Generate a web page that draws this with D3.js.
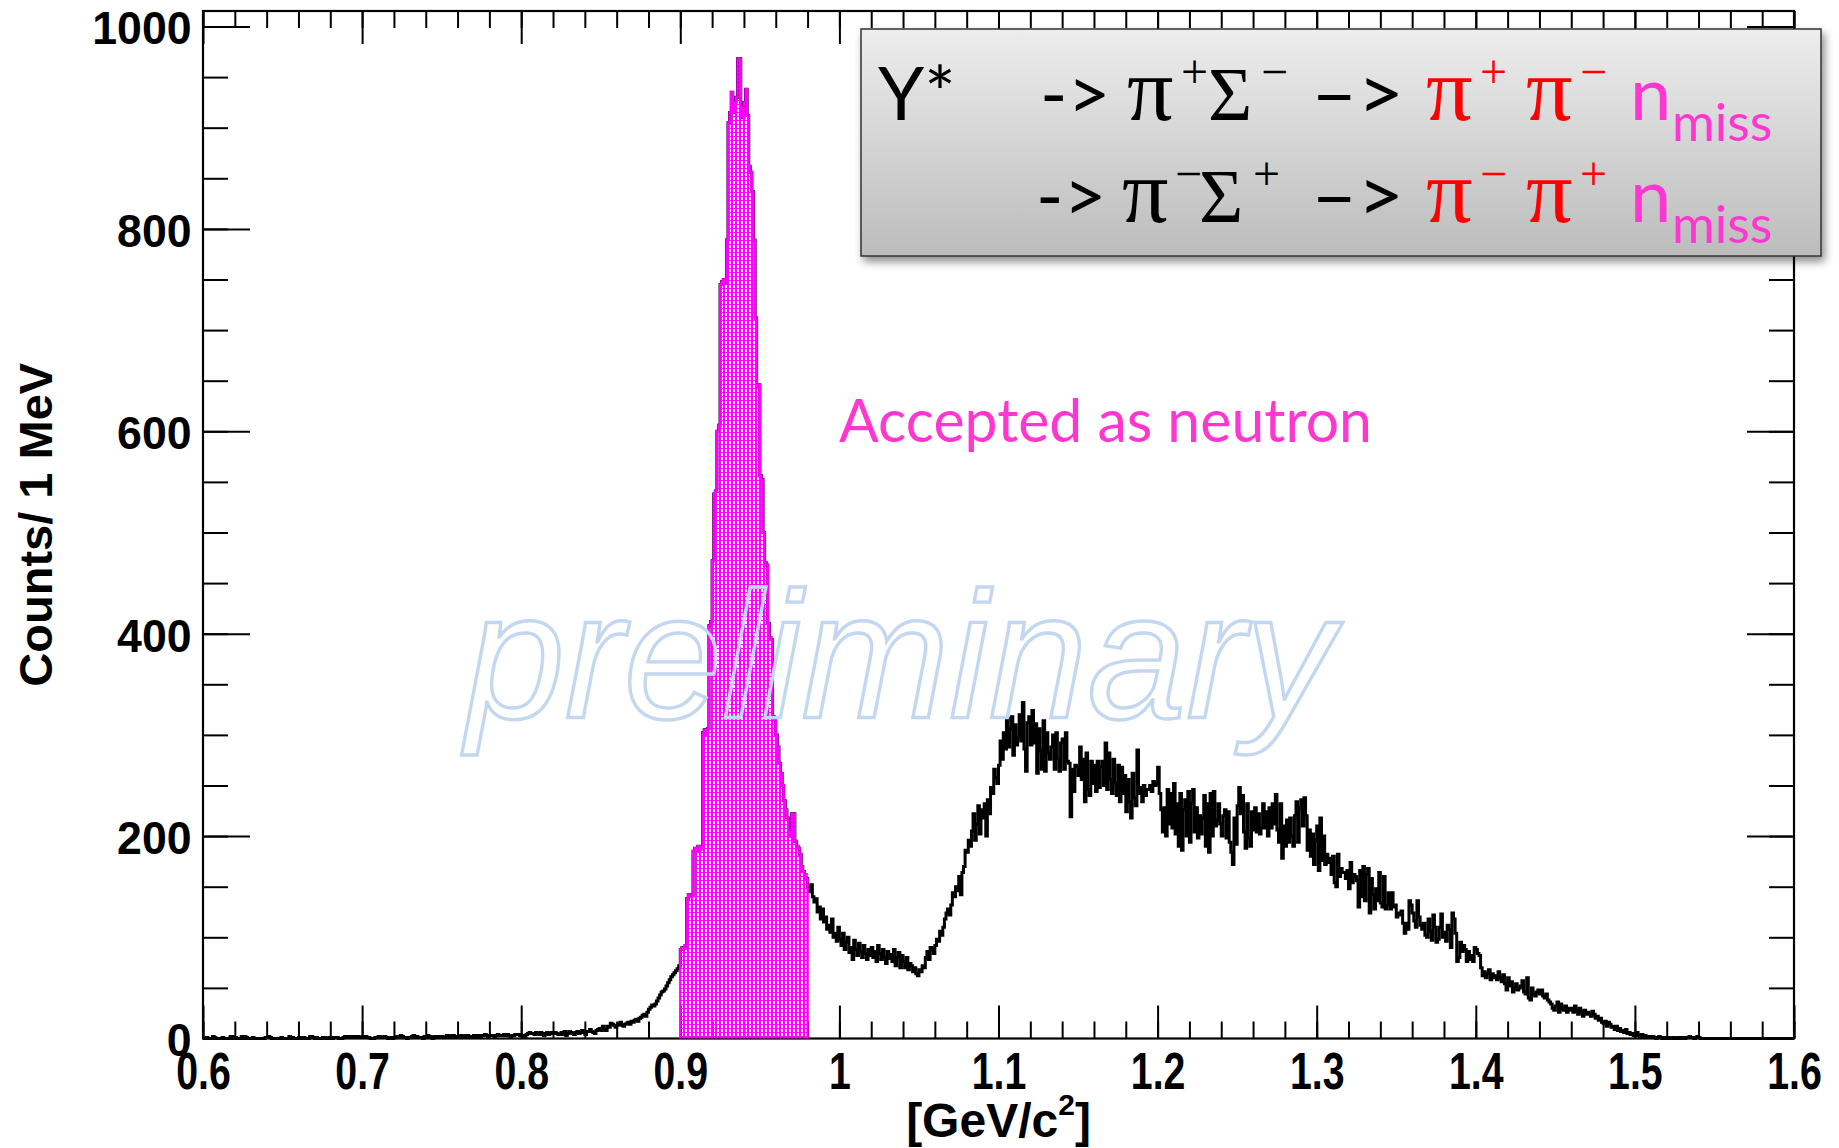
<!DOCTYPE html>
<html>
<head>
<meta charset="utf-8">
<script src="https://cdn.jsdelivr.net/npm/d3@7"></script>
<style>
  html, body { margin: 0; padding: 0; background: #ffffff; }
  svg { display: block; }
</style>
</head>
<body>
<svg id="chart" width="1839" height="1148"></svg>
<script>
// ---- Missing-mass histogram, 1 MeV bins from 0.6 to 1.6 GeV/c^2 ----
const massMin = 0.6;
const massMax = 1.6;
const binWidth = 0.001;
const yMax = 1015.3;

// counts per 1 MeV bin, 20 bins per row (row start mass in comment)
const counts = [
  0,0,1,0,0,0,2,1,0,0,0,0,1,0,0,0,0,2,2,1,            // 0.600
  1,0,0,0,2,2,2,1,0,0,0,1,0,0,0,0,0,0,0,1,            // 0.620
  1,2,1,0,0,0,0,0,0,1,0,0,0,0,2,0,1,0,0,0,            // 0.640
  1,0,1,1,0,0,0,2,2,1,0,1,0,0,0,1,1,0,0,1,            // 0.660
  0,0,1,1,1,0,0,0,1,2,2,1,2,2,2,2,1,2,1,1,            // 0.680
  2,2,2,1,1,0,0,0,1,1,2,2,1,1,2,1,0,0,1,0,            // 0.700
  1,2,2,1,3,2,1,1,0,1,1,2,3,2,2,1,1,1,0,2,            // 0.720
  2,3,2,1,0,2,1,2,2,2,2,1,1,3,2,2,3,3,2,1,            // 0.740
  2,2,3,2,1,3,3,2,2,1,3,2,3,3,2,3,3,4,3,2,            // 0.760
  3,3,3,2,3,4,3,3,3,4,3,4,3,2,3,3,4,4,4,3,            // 0.780
  3,3,2,4,5,6,5,5,4,6,5,4,6,5,3,5,6,4,5,6,            // 0.800
  5,6,5,4,4,6,4,7,3,5,7,6,5,4,6,7,5,6,8,6,            // 0.820
  4,7,7,9,7,6,5,8,9,10,8,12,9,8,12,11,15,14,13,11,    // 0.840
  13,14,16,13,12,14,15,16,14,17,16,18,19,17,20,21,23,24,22,26,           // 0.860
  29,31,33,32,34,37,40,43,46,47,49,52,55,58,61,63,65,67,69,72,           // 0.880
  88,90,89,92,138,142,140,141,185,188,186,190,187,189,302,305,300,306,408,412, // 0.900
  472,538,541,600,606,745,748,750,747,789,905,915,935,915,925,930,968,968,920,910, // 0.920
  925,938,912,862,856,837,789,712,644,646,556,552,500,470,468,410,396,394,318,315, // 0.940
  300,288,272,262,250,235,226,218,205,200,222,222,195,190,188,182,170,165,162,158, // 0.960
  150,145,152,140,135,138,125,130,118,128,115,120,108,112,105,118,100,104,96,110,  // 0.980
  98,92,104,88,95,100,85,90,78,97,88,82,94,86,80,92,84,78,88,82,         // 1.000
  90,80,86,76,92,84,78,88,80,74,86,79,83,76,88,72,80,85,70,82,           // 1.020
  76,70,80,68,74,72,66,70,64,62,68,66,72,70,80,86,78,90,88,84,           // 1.040
  92,98,96,106,102,110,118,124,128,122,132,144,140,150,146,160,142,164,170,186,    // 1.060
  184,196,190,205,222,196,212,230,202,226,218,232,200,236,222,248,242,266,258,252, // 1.080
  270,294,276,302,286,316,288,306,318,280,310,290,298,320,294,332,286,264,312,318, // 1.100
  290,324,292,311,262,306,284,266,314,264,302,282,276,288,300,266,302,276,264,292, // 1.120
  296,266,302,274,272,219,266,244,270,268,260,288,256,276,234,282,246,240,274,252, // 1.140
  270,244,274,248,268,274,250,292,246,282,256,242,276,252,240,270,234,268,242,260, // 1.160
  224,256,234,218,262,238,230,285,242,248,234,250,240,246,246,250,244,254,250,252, // 1.180
  268,242,226,204,228,200,246,212,242,208,252,202,232,190,242,186,226,236,200,244, // 1.200
  194,232,246,204,228,198,220,202,218,240,190,232,184,242,200,244,210,216,232,212, // 1.220
  200,220,226,198,224,194,184,172,218,192,230,248,222,240,204,188,232,198,190,224, // 1.240
  206,228,204,222,202,208,232,208,224,200,228,208,232,212,241,206,194,232,178,210, // 1.260
  190,216,194,218,200,190,220,234,194,228,236,210,238,220,186,206,180,202,172,196, // 1.280
  210,166,218,176,200,172,182,174,178,162,180,154,150,182,160,168,164,164,158,166, // 1.300
  148,174,154,162,160,156,130,166,140,170,136,162,168,124,158,142,128,148,136,164, // 1.320
  134,130,160,128,132,144,128,144,130,132,120,124,122,126,114,104,114,108,136,132, // 1.340
  124,116,110,136,120,112,108,114,102,100,118,106,97,122,110,95,98,110,123,100,    // 1.360
  105,96,112,108,90,124,118,104,76,80,95,86,92,88,76,86,78,82,76,90,     // 1.380
  88,84,82,70,62,66,60,64,68,58,64,60,62,58,66,60,56,63,54,48,           // 1.400
  60,52,56,46,50,54,48,50,52,57,46,44,60,40,38,50,44,42,46,48,           // 1.420
  44,48,42,40,44,38,36,34,30,28,32,36,26,34,30,28,32,26,30,28,           // 1.440
  30,26,32,28,24,30,26,22,28,24,26,24,22,27,24,20,22,18,20,16,           // 1.460
  15,17,12,16,14,11,12,9,12,8,10,7,8,6,9,5,6,4,5,3,                      // 1.480
  4,6,3,2,4,2,3,1,2,1,2,2,1,0,1,2,1,0,1,0,                               // 1.500
  0,1,0,0,1,0,0,1,0,1,1,0,1,1,2,1,1,0,1,2,                               // 1.520
  1,0,0,0,0,0,0,0,0,0,0,0,0,0,0,0,0,0,0,0,                               // 1.540
  0,0,0,0,0,0,0,0,0,0,0,0,0,0,0,0,0,0,0,0,                               // 1.560
  0,0,0,0,0,0,0,0,0,0,0,0,0,0,0,0,0,0,0,0                                // 1.580
];

// missing-mass window accepted as a neutron
const acceptWindow = [0.900, 0.980];

// axis ticks and labels
const xMajor = [0.6, 0.7, 0.8, 0.9, 1.0, 1.1, 1.2, 1.3, 1.4, 1.5, 1.6];
const xMajorLabels = ["0.6", "0.7", "0.8", "0.9", "1", "1.1", "1.2", "1.3", "1.4", "1.5", "1.6"];
const xMinorStep = 0.02;
const yMajor = [0, 200, 400, 600, 800, 1000];
const yMajorLabels = ["0", "200", "400", "600", "800", "1000"];
const yMinorStep = 50;

const xTitle = "[GeV/c";
const yTitle = "Counts/ 1 MeV";
const cutLabel = "Accepted as neutron";
const watermark = "preliminary";

// ---- drawing ----
const svg = d3.select("#chart");
const frame = { left: 203, right: 1794, top: 11, bottom: 1038.5 };
const x = d3.scaleLinear().domain([massMin, massMax]).range([frame.left, frame.right]);
const y = d3.scaleLinear().domain([0, yMax]).range([frame.bottom, frame.top]);

const defs = svg.append("defs");
// dotted magenta fill: 2x3 transparent hole in every 4x4 cell
const pat = defs.append("pattern")
  .attr("id", "fillDots").attr("width", 4).attr("height", 4)
  .attr("patternUnits", "userSpaceOnUse");
pat.append("path")
  .attr("d", "M0,0h4v1h-4z M0,1h1v3h-1z M3,1h1v3h-1z")
  .attr("fill", "#ff00ff").attr("shape-rendering", "crispEdges");

const grad = defs.append("linearGradient").attr("id", "boxGrad")
  .attr("x1", 0).attr("y1", 0).attr("x2", 0).attr("y2", 1);
grad.append("stop").attr("offset", "0%").attr("stop-color", "#ededed");
grad.append("stop").attr("offset", "100%").attr("stop-color", "#bcbcbc");

const shadow = defs.append("filter").attr("id", "boxShadow")
  .attr("x", "-5%").attr("y", "-10%").attr("width", "115%").attr("height", "130%");
shadow.append("feDropShadow").attr("dx", 3).attr("dy", 5)
  .attr("stdDeviation", 4).attr("flood-color", "#000").attr("flood-opacity", 0.45);

// tick marks (all pointing into the frame)
const xMinor = d3.range(Math.round((massMax - massMin) / xMinorStep) + 1)
  .map(i => +(massMin + i * xMinorStep).toFixed(3));
const yMinor = d3.range(0, yMax, yMinorStep);

function tickGroup(axis, tx, ty) {
  const g = svg.append("g").attr("transform", `translate(${tx},${ty})`).call(axis);
  g.select(".domain").remove();
  g.selectAll(".tick line").attr("stroke", "#000").attr("stroke-width", 2);
  return g;
}
tickGroup(d3.axisBottom(x).tickValues(xMinor).tickSize(-17).tickFormat(""), 0, frame.bottom);
tickGroup(d3.axisTop(x).tickValues(xMinor).tickSize(-17).tickFormat(""), 0, frame.top);
tickGroup(d3.axisLeft(y).tickValues(yMinor).tickSize(-25).tickFormat(""), frame.left, 0);
tickGroup(d3.axisRight(y).tickValues(yMinor).tickSize(-25).tickFormat(""), frame.right, 0);
tickGroup(d3.axisTop(x).tickValues(xMajor).tickSize(-33).tickFormat(""), 0, frame.top);
tickGroup(d3.axisRight(y).tickValues(yMajor).tickSize(-47).tickFormat(""), frame.right, 0);

const labelFont = "'Liberation Sans', Arial, Helvetica, sans-serif";
const xAxisG = tickGroup(
  d3.axisBottom(x).tickValues(xMajor).tickSize(-33).tickPadding(14)
    .tickFormat((d, i) => xMajorLabels[i]), 0, frame.bottom);
xAxisG.selectAll("text")
  .attr("font-family", labelFont)
  .attr("font-weight", "bold").attr("font-size", 51).attr("fill", "#000")
  .attr("transform", "scale(0.77,1)");

const yAxisG = tickGroup(
  d3.axisLeft(y).tickValues(yMajor).tickSize(-47).tickPadding(12)
    .tickFormat((d, i) => yMajorLabels[i]), frame.left, 0);
yAxisG.selectAll("text")
  .attr("font-family", labelFont)
  .attr("font-weight", "bold").attr("font-size", 47).attr("fill", "#000")
  .attr("dy", "0.37em")
  .attr("transform", "scale(0.95,1)");

// frame
svg.append("rect")
  .attr("x", frame.left).attr("y", frame.top)
  .attr("width", frame.right - frame.left).attr("height", frame.bottom - frame.top)
  .attr("fill", "none").attr("stroke", "#000").attr("stroke-width", 2.2);

// histogram outline
const edge = i => massMin + i * binWidth;
const histPoints = (i0, i1) => {
  const pts = [[edge(i0), 0]];
  for (let i = i0; i < i1; i++) pts.push([edge(i), counts[i]]);
  pts.push([edge(i1), counts[i1 - 1]]);
  pts.push([edge(i1), 0]);
  return pts;
};
const stepLine = d3.line().x(d => x(d[0])).y(d => y(d[1])).curve(d3.curveStepAfter);
const stepArea = d3.area().x(d => x(d[0])).y0(y(0)).y1(d => y(d[1])).curve(d3.curveStepAfter);

svg.append("path")
  .attr("d", stepLine(histPoints(0, counts.length)))
  .attr("fill", "none").attr("stroke", "#000").attr("stroke-width", 3)
  .attr("stroke-linejoin", "miter");

// accepted window, filled
const c0 = Math.round((acceptWindow[0] - massMin) / binWidth);
const c1 = Math.round((acceptWindow[1] - massMin) / binWidth);
const cutPts = histPoints(c0, c1);
svg.append("path").attr("d", stepArea(cutPts)).attr("fill", "url(#fillDots)");
svg.append("path").attr("d", stepLine(cutPts))
  .attr("fill", "none").attr("stroke", "#ff00ff").attr("stroke-width", 2.4);

// watermark
svg.append("text")
  .attr("x", 466).attr("y", 718)
  .attr("font-family", labelFont)
  .attr("font-style", "italic").attr("font-size", 180)
  .attr("textLength", 868).attr("lengthAdjust", "spacingAndGlyphs")
  .attr("fill", "none").attr("stroke", "#c3d7f0").attr("stroke-width", 3.4)
  .text(watermark);

// label of the accepted window
svg.append("text")
  .attr("x", 839).attr("y", 442)
  .attr("font-family", "Lato, 'Open Sans', sans-serif").attr("font-size", 60)
  .attr("fill", "#ff36cf")
  .attr("textLength", 533).attr("lengthAdjust", "spacingAndGlyphs")
  .text(cutLabel);

// axis titles
const xt = svg.append("text")
  .attr("x", (frame.left + frame.right) / 2).attr("y", 1137)
  .attr("text-anchor", "middle")
  .attr("font-family", labelFont)
  .attr("font-weight", "bold").attr("font-size", 48).attr("fill", "#000");
xt.append("tspan").text(xTitle);
xt.append("tspan").attr("font-size", 30).attr("dy", -22).text("2");
xt.append("tspan").attr("dy", 22).text("]");

svg.append("text")
  .attr("transform", `translate(52,${(frame.top + frame.bottom) / 2}) rotate(-90)`)
  .attr("text-anchor", "middle")
  .attr("font-family", labelFont)
  .attr("font-weight", "bold").attr("font-size", 47).attr("fill", "#000")
  .text(yTitle);

// decay-chain box
const box = { x: 861, y: 29, w: 960, h: 227 };
svg.append("rect")
  .attr("x", box.x).attr("y", box.y).attr("width", box.w).attr("height", box.h)
  .attr("fill", "url(#boxGrad)").attr("stroke", "#333").attr("stroke-width", 1.5)
  .attr("filter", "url(#boxShadow)");

const sans = "Lato, 'Open Sans', sans-serif";
const serif = "'Liberation Serif', 'DejaVu Serif', serif";
const black = "#000", red = "#ff0000", mag = "#ff36cf";
function runs(list) {
  list.forEach(r => {
    const t = svg.append("text")
      .attr("x", r.x).attr("y", r.y)
      .attr("font-family", r.f).attr("font-size", r.s).attr("fill", r.c)
      .text(r.t);
    if (r.len) t.attr("textLength", r.len).attr("lengthAdjust", "spacingAndGlyphs");
  });
}
const r1 = 120, r2 = 222;
const s1 = 88, s2 = 190;
runs([
  { t: "Y*", x: 878, y: r1, f: sans, s: 74, c: black },
  { t: "->", x: 1040, y: r1, f: sans, s: 74, c: black },
  { t: "\u03c0", x: 1127, y: r1, f: serif, s: 92, c: black },
  { t: "+", x: 1181, y: s1, f: serif, s: 48, c: black },
  { t: "\u03a3", x: 1208, y: r1, f: serif, s: 76, c: black },
  { t: "\u2212", x: 1261, y: s1, f: serif, s: 48, c: black },
  { t: "\u2013>", x: 1311, y: r1, f: sans, s: 76, c: black, len: 93 },
  { t: "\u03c0", x: 1426, y: r1, f: serif, s: 92, c: red },
  { t: "+", x: 1480, y: s1, f: serif, s: 48, c: red },
  { t: "\u03c0", x: 1526, y: r1, f: serif, s: 92, c: red },
  { t: "\u2212", x: 1580, y: s1, f: serif, s: 48, c: red },
  { t: "n", x: 1630, y: r1, f: sans, s: 74, c: mag },
  { t: "miss", x: 1672, y: 141, f: sans, s: 52, c: mag },

  { t: "->", x: 1036, y: r2, f: sans, s: 74, c: black },
  { t: "\u03c0", x: 1122, y: r2, f: serif, s: 92, c: black },
  { t: "\u2212", x: 1175, y: s2, f: serif, s: 48, c: black },
  { t: "\u03a3", x: 1199, y: r2, f: serif, s: 76, c: black },
  { t: "+", x: 1253, y: s2, f: serif, s: 48, c: black },
  { t: "\u2013>", x: 1311, y: r2, f: sans, s: 76, c: black, len: 93 },
  { t: "\u03c0", x: 1426, y: r2, f: serif, s: 92, c: red },
  { t: "\u2212", x: 1480, y: s2, f: serif, s: 48, c: red },
  { t: "\u03c0", x: 1526, y: r2, f: serif, s: 92, c: red },
  { t: "+", x: 1580, y: s2, f: serif, s: 48, c: red },
  { t: "n", x: 1630, y: r2, f: sans, s: 74, c: mag },
  { t: "miss", x: 1672, y: 243, f: sans, s: 52, c: mag }
]);
</script>
</body>
</html>
